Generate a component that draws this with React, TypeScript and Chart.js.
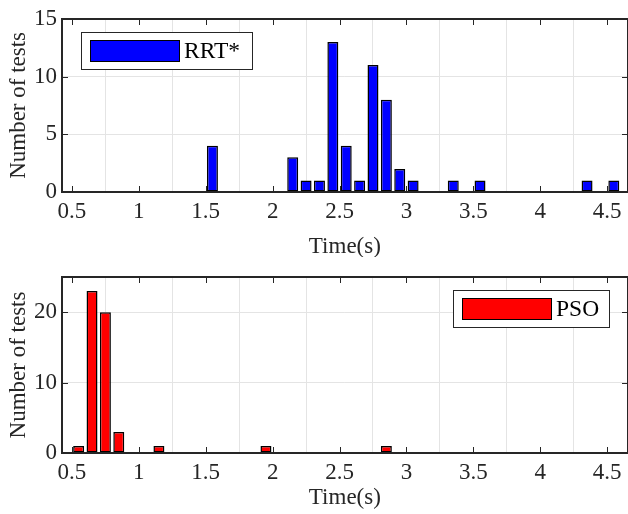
import React, { useEffect, useRef } from "react";
import { Chart, registerables } from "chart.js";

Chart.register(...registerables);

// ---- data ----
const rrtCenters = [1.55, 2.15, 2.25, 2.35, 2.45, 2.55, 2.65, 2.75, 2.85, 2.95, 3.05, 3.35, 3.55, 4.35, 4.55];
const rrtCounts = [4, 3, 1, 1, 13, 4, 1, 11, 8, 2, 1, 1, 1, 1, 1];
const psoCenters = [0.55, 0.65, 0.75, 0.85, 1.15, 1.95, 2.85];
const psoCounts = [1, 23, 20, 3, 1, 1, 1];
const xTickValues = [0.5, 1, 1.5, 2, 2.5, 3, 3.5, 4, 4.5];
const rrtYTicks = [0, 5, 10, 15];
const psoYTicks = [0, 10, 20];
const xLabel = "Time(s)";
const yLabel = "Number of tests";

const FONT = "Liberation Serif";
const AXIS_COLOR = "#262626";

function drawFrame(chart: any) {
  const { ctx, chartArea: a, scales } = chart;
  const L = Math.round(a.left);
  const T = Math.round(a.top);
  const B = Math.round(a.bottom);
  const R = Math.round(a.right);
  ctx.save();
  ctx.strokeStyle = AXIS_COLOR;
  ctx.lineWidth = 1;
  ctx.beginPath();
  const tl = 6;
  for (const t of scales.x.ticks) {
    const px = Math.round(scales.x.getPixelForValue(t.value)) + 0.5;
    ctx.moveTo(px, B);
    ctx.lineTo(px, B - tl);
    ctx.moveTo(px, T);
    ctx.lineTo(px, T + tl);
  }
  for (const t of scales.y.ticks) {
    const py = Math.round(scales.y.getPixelForValue(t.value)) + 0.5;
    ctx.moveTo(L, py);
    ctx.lineTo(L + tl, py);
    ctx.moveTo(R, py);
    ctx.lineTo(R - tl, py);
  }
  ctx.stroke();
  ctx.lineWidth = 2;
  ctx.beginPath();
  ctx.rect(L, T, R - L, B - T);
  ctx.stroke();
  ctx.restore();
}

const framePlugin = {
  id: "frame",
  afterDraw(chart: any, _args: any, opts: any) {
    drawFrame(chart);
    const { ctx, chartArea: a } = chart;
    const ds = chart.data.datasets[0];
    const lg = opts.legend;
    if (!lg) return;
    const left = Math.round(lg.alignRight ? a.right - lg.offsetX - lg.width : a.left + lg.offsetX);
    const top = Math.round(a.top + lg.offsetY);
    ctx.save();
    ctx.fillStyle = "#ffffff";
    ctx.fillRect(left, top, lg.width, lg.height);
    ctx.strokeStyle = AXIS_COLOR;
    ctx.lineWidth = 1;
    ctx.strokeRect(left + 0.5, top + 0.5, lg.width, lg.height);
    const px = left + 9;
    const py = top + 8;
    const pw = lg.patchWidth;
    const ph = lg.height - 16;
    ctx.fillStyle = ds.backgroundColor;
    ctx.fillRect(px, py, pw, ph);
    ctx.strokeStyle = "#000";
    ctx.lineWidth = 1;
    ctx.strokeRect(px + 0.5, py + 0.5, pw, ph);
    ctx.fillStyle = "#000";
    ctx.font = `23.5px "${FONT}"`;
    ctx.textBaseline = "middle";
    ctx.textAlign = "left";
    ctx.fillText(ds.label, px + pw + 5, top + lg.height / 2 + 1);
    ctx.restore();
  },
};

type HistProps = {
  centers: number[];
  counts: number[];
  color: string;
  label: string;
  yMax: number;
  yTicks: number[];
  padTop: number;
  xAxisHeight: number;
  titleBottomPad: number;
  legend: any;
};

function Hist(p: HistProps) {
  const ref = useRef<HTMLCanvasElement | null>(null);
  useEffect(() => {
    if (!ref.current) return;
    const chart = new Chart(ref.current, {
      type: "bar",
      data: {
        datasets: [
          {
            label: p.label,
            data: p.centers.map((c, i) => ({ x: c, y: p.counts[i] })),
            backgroundColor: p.color,
            borderColor: "#000000",
            borderWidth: 1.5,
            borderSkipped: false,
            categoryPercentage: 1,
            barPercentage: 0.82,
          } as any,
        ],
      },
      options: {
        animation: false,
        responsive: false,
        maintainAspectRatio: false,
        devicePixelRatio: 1,
        layout: { padding: { left: 0, right: -2, top: p.padTop, bottom: 0 } },
        plugins: {
          legend: { display: false },
          tooltip: { enabled: false },
          frame: { legend: p.legend },
        } as any,
        scales: {
          x: {
            type: "linear",
            min: 0.4256,
            max: 4.654,
            offset: false,
            afterBuildTicks: (s: any) => {
              s.ticks = xTickValues.map((v) => ({ value: v }));
            },
            afterFit: (s: any) => {
              s.height = p.xAxisHeight;
            },
            grid: { color: "#e4e4e4", drawTicks: false, lineWidth: 1 },
            border: { display: false },
            ticks: {
              padding: 6.5,
              color: AXIS_COLOR,
              font: { family: FONT, size: 23 },
              maxRotation: 0,
              autoSkip: false,
              callback: (v: any) => String(v),
            },
            title: {
              display: true,
              text: xLabel,
              color: AXIS_COLOR,
              font: { family: FONT, size: 23 },
              padding: { top: 0, bottom: p.titleBottomPad },
            },
          },
          y: {
            min: 0,
            max: p.yMax,
            afterBuildTicks: (s: any) => {
              s.ticks = p.yTicks.map((v) => ({ value: v }));
            },
            afterFit: (s: any) => {
              s.width = 62;
            },
            grid: { color: "#e4e4e4", drawTicks: false, lineWidth: 1 },
            border: { display: false },
            ticks: {
              padding: 5,
              color: AXIS_COLOR,
              font: { family: FONT, size: 23 },
              callback: (v: any) => String(v),
            },
            title: {
              display: true,
              text: yLabel,
              color: AXIS_COLOR,
              font: { family: FONT, size: 23 },
              padding: { top: 5.2, bottom: 0 },
            },
          },
        },
      } as any,
      plugins: [framePlugin],
    });
    return () => chart.destroy();
  }, []);
  return <canvas ref={ref} width={628} height={257} style={{ display: "block", width: 628, height: 257 }} />;
}

export default function App() {
  useEffect(() => {
    document.body.style.margin = "0";
    document.body.style.background = "#ffffff";
  }, []);
  return (
    <div style={{ width: 628, height: 514, background: "#fff", overflow: "hidden" }}>
      <Hist
        centers={rrtCenters}
        counts={rrtCounts}
        color="#0000ff"
        label="RRT*"
        yMax={15}
        yTicks={rrtYTicks}
        padTop={16}
        xAxisHeight={65}
        titleBottomPad={-4}
        legend={{ alignRight: false, offsetX: 19, offsetY: 13, width: 171, height: 37, patchWidth: 89 }}
      />
      <Hist
        centers={psoCenters}
        counts={psoCounts}
        color="#ff0000"
        label="PSO"
        yMax={25}
        yTicks={psoYTicks}
        padTop={20}
        xAxisHeight={61}
        titleBottomPad={2.5}
        legend={{ alignRight: true, offsetX: 19, offsetY: 13, width: 156, height: 37, patchWidth: 89 }}
      />
    </div>
  );
}
